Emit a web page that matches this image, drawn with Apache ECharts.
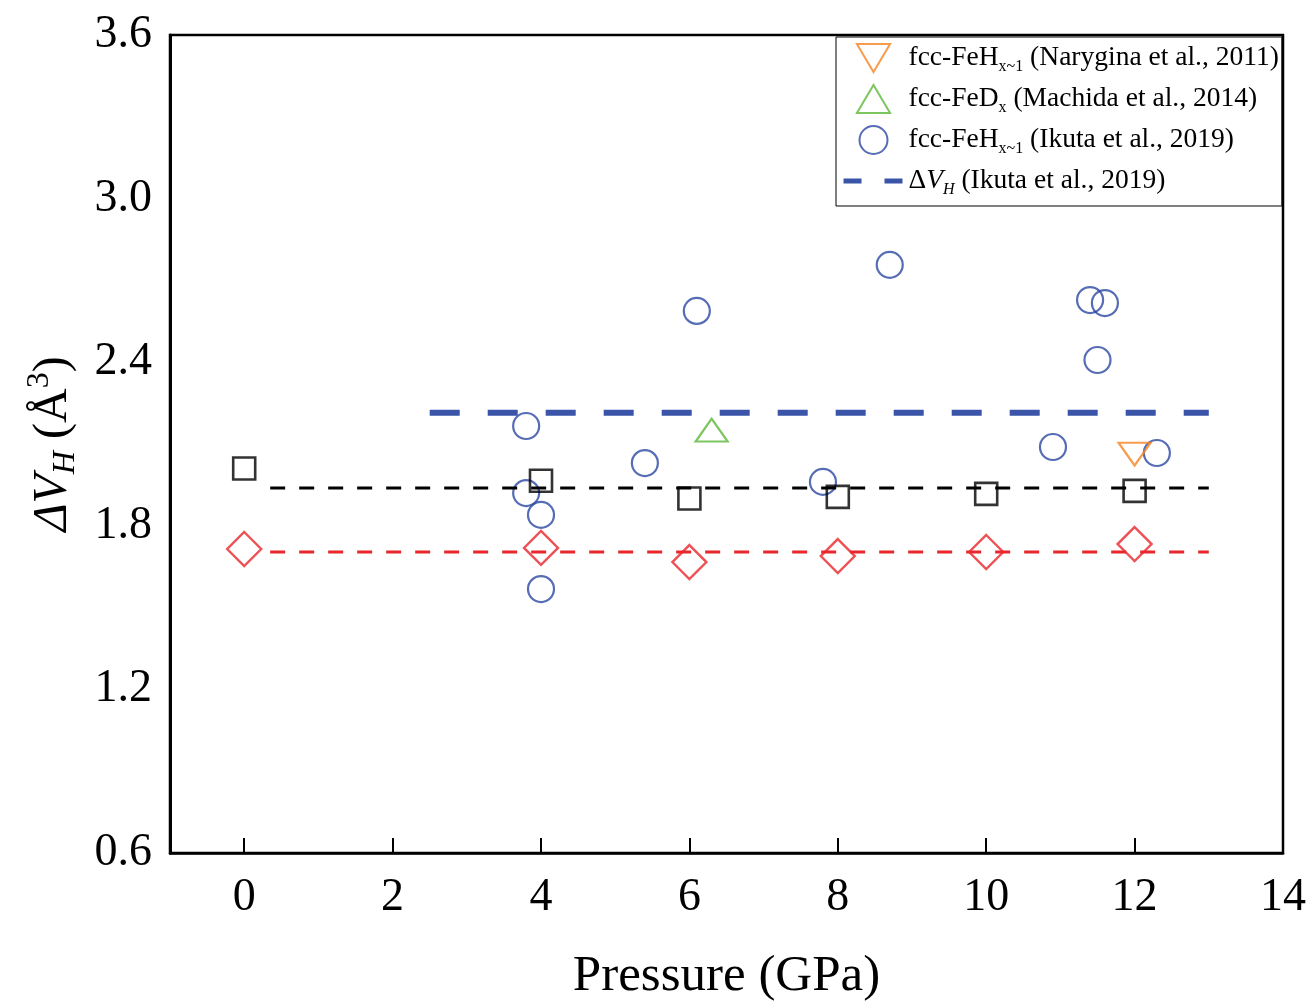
<!DOCTYPE html>
<html>
<head>
<meta charset="utf-8">
<title>ΔV_H vs pressure</title>
<script src="https://cdn.jsdelivr.net/npm/echarts@6/dist/echarts.min.js"></script>
<style>
  html, body { margin: 0; padding: 0; background: #fff; }
  #chart { width: 1312px; height: 1002px; }
</style>
</head>
<body>
<div id="chart"></div>
<script>
// Axis tick labels
const pressureTicks = [0, 2, 4, 6, 8, 10, 12, 14];
const volumeTicks = [0.6, 1.2, 1.8, 2.4, 3.0, 3.6];

// Fitted values at fixed pressures (squares and diamonds)
const fitPressure = [0, 4, 6, 8, 10, 12];
const squareValues = [2.01, 1.965, 1.90, 1.906, 1.917, 1.928];
const diamondValues = [1.715, 1.719, 1.667, 1.689, 1.704, 1.733];
const squareMean = 1.939;
const diamondMean = 1.704;
const meanRange = [0.35, 13];

// fcc-FeHx~1 (Ikuta et al., 2019)
const ikutaPressure = [3.8, 3.8, 4.0, 4.0, 5.4, 6.1, 7.8, 8.7, 10.9, 11.4, 11.6, 11.5, 12.3];
const ikutaValues = [2.166, 1.92, 1.84, 1.568, 2.03, 2.588, 1.961, 2.757, 2.089, 2.628, 2.617, 2.408, 2.067];
const ikutaMean = 2.215;
const ikutaRange = [2.5, 13];

// fcc-FeHx~1 (Narygina et al., 2011)
const naryginaPressure = [12.0];
const naryginaValues = [2.063];

// fcc-FeDx (Machida et al., 2014)
const machidaPressure = [6.3];
const machidaValues = [2.151];

const pairs = (xs, ys) => xs.map((x, i) => [x, ys[i]]);
const flat = (range, v) => range.map(x => [x, v]);

const SERIF = '"Liberation Serif", "Times New Roman", serif';
const BLUE = '#2c48a2';
const BLUE_LINE = '#3a55a8';
const RED = '#e8262b';
const GREEN = '#5cb737';
const ORANGE = '#f5821f';
const CLEAR = 'rgba(0,0,0,0)';

const TRIANGLE_UP = 'path://M16,0 L32,27 L0,27 Z';
const TRIANGLE_DOWN = 'path://M0,0 L32,0 L16,27 Z';

const legendLabels = {
  narygina: '{t|fcc-FeH}{s|x~1}{t| (Narygina et al., 2011)}',
  machida: '{t|fcc-FeD}{s|x}{t| (Machida et al., 2014)}',
  ikuta: '{t|fcc-FeH}{s|x~1}{t| (Ikuta et al., 2019)}',
  ikutaMean: '{t|Δ}{ti|V}{si|H}{t| (Ikuta et al., 2019)}'
};

const LF = 27.5;

const chart = echarts.init(document.getElementById('chart'), null, { renderer: 'canvas' });

chart.setOption({
  animation: false,
  backgroundColor: '#fff',
  grid: {
    left: 170, right: 29, top: 35, bottom: 149,
    outerBoundsMode: 'none',
    containLabel: false,
    show: true, borderColor: '#000', borderWidth: 2.5
  },
  legend: {
    left: 836, top: 37,
    orient: 'vertical',
    itemWidth: 60, itemHeight: 28, itemGap: 7,
    padding: [4, 3, 8, 5],
    borderColor: '#000', borderWidth: 1,
    backgroundColor: '#fff',
    symbolKeepAspect: true,
    lineStyle: { type: [18, 23], width: 5 },
    data: ['narygina', 'machida', 'ikuta', 'ikutaMean'],
    formatter: name => legendLabels[name],
    textStyle: {
      fontFamily: SERIF, fontSize: LF, color: '#000',
      rich: {
        t: { fontFamily: SERIF, fontSize: LF, lineHeight: 30, color: '#000' },
        ti: { fontFamily: SERIF, fontSize: LF, lineHeight: 30, fontStyle: 'italic', color: '#000' },
        s: { fontFamily: SERIF, fontSize: 16, lineHeight: 30, padding: [18, 0, 0, 0], color: '#000' },
        si: { fontFamily: SERIF, fontSize: 16, lineHeight: 30, padding: [18, 0, 0, 0], fontStyle: 'italic', color: '#000' }
      }
    }
  },
  xAxis: {
    type: 'value',
    min: -1, max: 14,
    name: 'Pressure (GPa)',
    nameLocation: 'middle',
    nameGap: 98,
    nameTextStyle: { fontFamily: SERIF, fontSize: 51, color: '#000' },
    axisLine: { show: true, onZero: false, lineStyle: { color: '#000', width: 2.5 } },
    axisTick: { show: true, inside: true, length: 15, customValues: pressureTicks, lineStyle: { color: '#000', width: 2 } },
    axisLabel: {
      customValues: pressureTicks,
      margin: 22,
      fontFamily: SERIF, fontSize: 46, color: '#000'
    },
    splitLine: { show: false }
  },
  yAxis: {
    type: 'value',
    min: 0.6, max: 3.6, interval: 0.6,
    name: '{it|ΔV}{sub|H}{n| (Å}{sup|3}{n|)}',
    nameLocation: 'middle',
    nameRotate: 90,
    nameGap: 84,
    nameTextStyle: {
      fontFamily: SERIF, fontSize: 48, color: '#000',
      rich: {
        it: { fontFamily: SERIF, fontSize: 48, lineHeight: 56, fontStyle: 'italic', color: '#000' },
        n: { fontFamily: SERIF, fontSize: 48, lineHeight: 56, color: '#000' },
        sub: { fontFamily: SERIF, fontSize: 32, lineHeight: 56, fontStyle: 'italic', padding: [24, 0, 0, 0], color: '#000' },
        sup: { fontFamily: SERIF, fontSize: 32, lineHeight: 56, padding: [0, 0, 28, 0], color: '#000' }
      }
    },
    axisLine: { show: true, onZero: false, lineStyle: { color: '#000', width: 3 } },
    axisTick: { show: false },
    axisLabel: {
      margin: 18,
      fontFamily: SERIF, fontSize: 46, color: '#000',
      formatter: v => {
        const hit = volumeTicks.find(t => Math.abs(t - v) < 1e-6);
        return hit !== undefined ? hit.toFixed(1) : '';
      }
    },
    splitLine: { show: false }
  },
  series: [
    {
      name: 'squareMean', type: 'line', data: flat(meanRange, squareMean),
      symbol: 'none', silent: true,
      lineStyle: { color: '#000', width: 3, type: [15, 14] }
    },
    {
      name: 'diamondMean', type: 'line', data: flat(meanRange, diamondMean),
      symbol: 'none', silent: true,
      lineStyle: { color: RED, width: 3, type: [15, 14] }
    },
    {
      name: 'ikutaMean', type: 'line', data: flat(ikutaRange, ikutaMean),
      symbol: 'none', silent: true,
      itemStyle: { color: CLEAR, borderColor: CLEAR, borderWidth: 0 },
      lineStyle: { color: BLUE_LINE, width: 6, type: [30, 28] }
    },
    {
      name: 'ikuta', type: 'scatter', data: pairs(ikutaPressure, ikutaValues),
      symbol: 'circle', symbolSize: 26, symbolKeepAspect: true,
      itemStyle: { color: CLEAR, borderColor: BLUE, borderWidth: 2.2 }
    },
    {
      name: 'squares', type: 'scatter', data: pairs(fitPressure, squareValues),
      symbol: 'rect', symbolSize: 22,
      itemStyle: { color: CLEAR, borderColor: '#000', borderWidth: 2.6 }
    },
    {
      name: 'diamonds', type: 'scatter', data: pairs(fitPressure, diamondValues),
      symbol: 'diamond', symbolSize: 34,
      itemStyle: { color: CLEAR, borderColor: RED, borderWidth: 2.4 }
    },
    {
      name: 'machida', type: 'scatter', data: pairs(machidaPressure, machidaValues),
      symbol: TRIANGLE_UP, symbolSize: [32, 27], symbolKeepAspect: true,
      itemStyle: { color: CLEAR, borderColor: GREEN, borderWidth: 2.2 }
    },
    {
      name: 'narygina', type: 'scatter', data: pairs(naryginaPressure, naryginaValues),
      symbol: TRIANGLE_DOWN, symbolSize: [32, 27], symbolKeepAspect: true,
      itemStyle: { color: CLEAR, borderColor: ORANGE, borderWidth: 2.2 }
    }
  ]
});
</script>
</body>
</html>
